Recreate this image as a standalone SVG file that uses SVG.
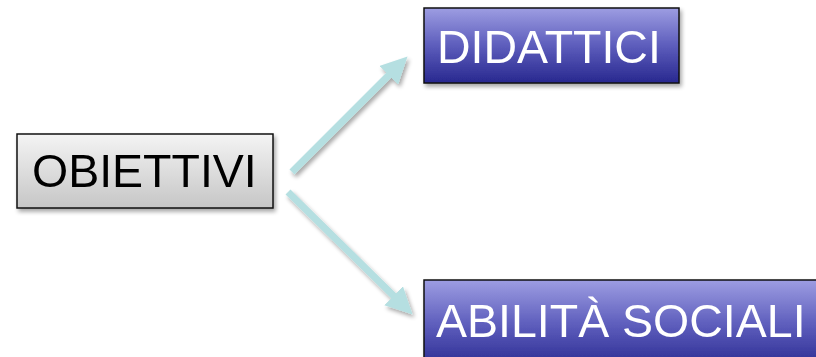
<svg xmlns="http://www.w3.org/2000/svg" width="816" height="357" viewBox="0 0 816 357">
  <defs>
    <linearGradient id="grayFill" x1="0" y1="0" x2="0" y2="1">
      <stop offset="0" stop-color="#f4f4f4"/>
      <stop offset="1" stop-color="#c6c6c6"/>
    </linearGradient>
    <linearGradient id="blueFill" x1="0" y1="0" x2="0" y2="1">
      <stop offset="0" stop-color="#9d9de2"/>
      <stop offset="0.5" stop-color="#5d5dbc"/>
      <stop offset="1" stop-color="#28288f"/>
    </linearGradient>
    <filter id="shadow" x="-10%" y="-20%" width="130%" height="150%">
      <feGaussianBlur in="SourceAlpha" stdDeviation="2"/>
      <feOffset dx="2" dy="3" result="off"/>
      <feComponentTransfer><feFuncA type="linear" slope="0.35"/></feComponentTransfer>
      <feMerge><feMergeNode/><feMergeNode in="SourceGraphic"/></feMerge>
    </filter>
    <marker id="head" viewBox="0 0 10 10" refX="6" refY="5" markerWidth="3.8" markerHeight="3.8" orient="auto" markerUnits="strokeWidth">
      <path d="M0,0 L10,5 L0,10 Z" fill="#b5dfe1"/>
    </marker>
  </defs>
  <style>
    .box { stroke: #111; stroke-width: 1.5; }
    .label { font-family: "Liberation Sans", Arial, sans-serif; font-size: 46.5px; }
    .conn { stroke: #b5dfe1; stroke-width: 7; fill: none; marker-end: url(#head); }
  </style>

  <rect width="816" height="357" fill="#ffffff"/>

  <!-- connectors -->
  <g id="connectors" filter="url(#shadow)">
    <line class="conn" x1="292" y1="172" x2="400" y2="64"/>
    <line class="conn" x1="288" y1="192" x2="405" y2="307"/>
  </g>

  <g id="obiettivi" filter="url(#shadow)">
    <rect class="box" x="17" y="134" width="256" height="74" fill="url(#grayFill)"/>
    <text class="label" x="32" y="187" fill="#000">OBIETTIVI</text>
  </g>

  <g id="didattici" filter="url(#shadow)">
    <rect class="box" x="424" y="8" width="255" height="75" fill="url(#blueFill)"/>
    <text class="label" x="437" y="63" fill="#ffffff">DIDATTICI</text>
  </g>

  <g id="abilita-sociali" filter="url(#shadow)">
    <rect class="box" x="424" y="280" width="410" height="90" fill="url(#blueFill)"/>
    <text class="label" x="436" y="337" fill="#ffffff">ABILITÀ SOCIALI</text>
  </g>
</svg>
